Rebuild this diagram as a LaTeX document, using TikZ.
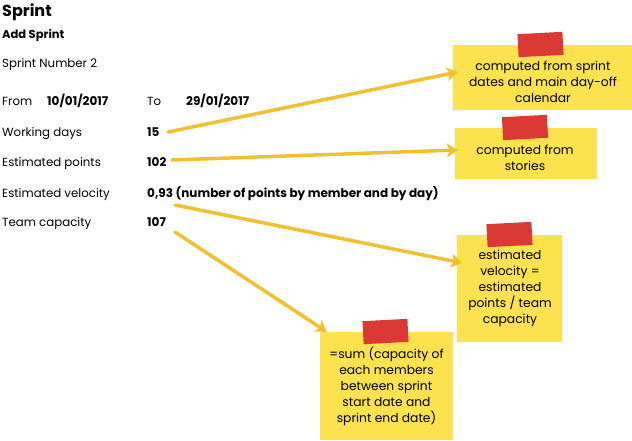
\documentclass[tikz,border=0pt]{standalone}
\usepackage{fontspec}
\setmainfont{Poppins}
\usetikzlibrary{arrows.meta}
\definecolor{noteyellow}{HTML}{FCE24E}
\definecolor{tapered}{HTML}{DA3934}
\definecolor{arrowyellow}{HTML}{F0C030}
\begin{document}
\begin{tikzpicture}[x=1pt,y=-1pt,
  lbl/.style={anchor=base west, inner sep=0pt, font=\fontsize{11.8}{13}\selectfont},
  val/.style={anchor=base west, inner sep=0pt, font=\fontsize{12}{13}\selectfont\bfseries},
  notebox/.style={fill=noteyellow, inner sep=0pt},
  notetext/.style={align=center, inner sep=0pt, font=\fontsize{12.3}{16}\selectfont},
  tape/.style={fill=tapered, inner sep=0pt, minimum width=45pt, minimum height=23pt, rotate=3},
  conn/.style={draw=arrowyellow, line width=3.5pt, line cap=round, -{Stealth[length=11pt,width=14pt,inset=3pt]}}
]
\useasboundingbox (0,0) rectangle (632,441);
% left form
\node[anchor=base west, inner sep=0pt, font=\fontsize{16}{18}\selectfont\bfseries] (title) at (2,17) {Sprint};
\node[val, font=\fontsize{11.5}{13}\selectfont\bfseries] (add) at (2,39) {Add Sprint};
\node[lbl] (num) at (2,68) {Sprint Number 2};
\node[lbl] (from) at (2,106) {From};
\node[val] (d1) at (47,106) {10/01/2017};
\node[lbl] (to) at (147,106) {To};
\node[val] (d2) at (186,106) {29/01/2017};
\node[lbl] (wd) at (2,137) {Working days};
\node[val] (v15) at (147,137) {15};
\node[lbl] (ep) at (2,167) {Estimated points};
\node[val] (v102) at (147,167) {102};
\node[lbl] (ev) at (2,197) {Estimated velocity};
\node[val] (v093) at (147,197) {0,93 (number of points by member and by day)};
\node[lbl] (tc) at (2,226) {Team capacity};
\node[val] (v107) at (147,226) {107};
% notes
\node[notebox, minimum width=179pt, minimum height=65pt] (n1) at (542.5,77.5) {};
\node[tape] (tp1) at (540.5,44.5) {};
\node[notetext] (t1) at (543,82) {computed from sprint\\dates and main day-off\\calendar};
\node[notebox, minimum width=142pt, minimum height=51pt] (n2) at (526,153.5) {};
\node[tape] (tp2) at (525,127.5) {};
\node[notetext] (t2) at (525,158) {computed from\\stories};
\node[notebox, minimum width=105pt, minimum height=107pt] (n3) at (509.5,288.5) {};
\node[tape] (tp3) at (509.5,234.5) {};
\node[notetext] (t3) at (510,288) {estimated\\velocity =\\estimated\\points / team\\capacity};
\node[notebox, minimum width=133pt, minimum height=108pt] (n4) at (386.5,386) {};
\node[tape] (tp4) at (385.5,331.5) {};
\node[notetext] (t4) at (386.5,386.5) {=sum (capacity of\\each members\\between sprint\\start date and\\sprint end date)};
% connectors
\coordinate (s1) at (168,132);
\coordinate (s2) at (172,160);
\coordinate (s3) at (175,205);
\coordinate (s4) at (175,232);
\draw[conn] (s1) -- ([shift={(5,-5.5)}]n1.west);
\draw[conn] (s2) -- ([shift={(3,-3.5)}]n2.west);
\draw[conn] (s3) -- ([shift={(5,28)}]n3.north west);
\draw[conn] (s4) -- ([shift={(7,0)}]n4.north west);
\end{tikzpicture}
\end{document}
